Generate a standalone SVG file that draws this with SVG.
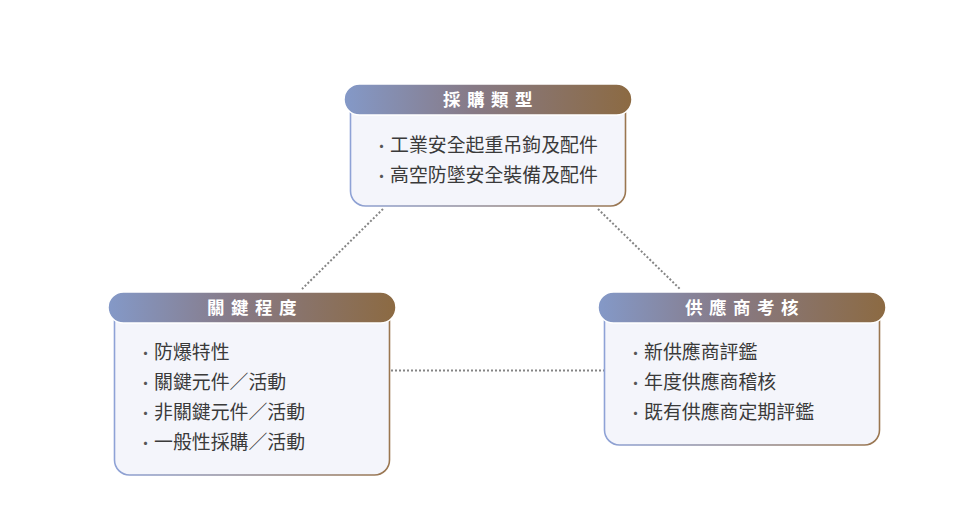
<svg xmlns="http://www.w3.org/2000/svg" width="975" height="530" viewBox="0 0 975 530">
  <defs>
    <linearGradient id="hdr" x1="0" y1="0" x2="1" y2="0">
      <stop offset="0" stop-color="#8499c8"/>
      <stop offset="0.45" stop-color="#877a86"/>
      <stop offset="1" stop-color="#8c6a42"/>
    </linearGradient>
    <linearGradient id="brd" x1="0" y1="0" x2="1" y2="0">
      <stop offset="0" stop-color="#8ea2d6"/>
      <stop offset="1" stop-color="#9a7650"/>
    </linearGradient>
    <style>
      .body { fill: #f4f5fb; stroke: url(#brd); stroke-width: 1.6; }
      .hdr { fill: url(#hdr); stroke: #ffffff; stroke-width: 1.5; }
      .ttl { font-family: "Noto Sans CJK TC", "Noto Sans", sans-serif; font-size: 17.5px; font-weight: bold; fill: #ffffff; letter-spacing: 6.5px; text-anchor: middle; }
      .itm { font-family: "Noto Sans CJK TC", "Noto Sans", sans-serif; font-size: 18.9px; fill: #3a3a3a; }
      .dot { font-size: 15px; fill: #555555; }
      .conn { stroke: #858585; stroke-width: 2; stroke-dasharray: 2 2; fill: none; }
    </style>
  </defs>
  <rect width="975" height="530" fill="#ffffff"/>

  <g id="connectors">
    <line class="conn" x1="383" y1="209" x2="302" y2="289"/>
    <line class="conn" x1="598" y1="209" x2="680" y2="289"/>
    <line class="conn" x1="391" y1="370.5" x2="604" y2="370.5"/>
  </g>

  <g id="node-type">
    <rect class="body" x="350.5" y="98" width="275" height="108" rx="15"/>
    <rect class="hdr" x="344" y="84" width="288" height="31" rx="15.5"/>
    <text class="ttl" x="491" y="106">採購類型</text>
    <text class="itm" y="152"><tspan class="dot" x="374">·</tspan><tspan x="390">工業安全起重吊鉤及配件</tspan></text>
    <text class="itm" y="182"><tspan class="dot" x="374">·</tspan><tspan x="390">高空防墜安全裝備及配件</tspan></text>
  </g>

  <g id="node-level">
    <rect class="body" x="114.5" y="306" width="275" height="169" rx="15"/>
    <rect class="hdr" x="108" y="292" width="288" height="31" rx="15.5"/>
    <text class="ttl" x="255" y="314">關鍵程度</text>
    <text class="itm" y="359"><tspan class="dot" x="138">·</tspan><tspan x="154">防爆特性</tspan></text>
    <text class="itm" y="389"><tspan class="dot" x="138">·</tspan><tspan x="154">關鍵元件／活動</tspan></text>
    <text class="itm" y="419"><tspan class="dot" x="138">·</tspan><tspan x="154">非關鍵元件／活動</tspan></text>
    <text class="itm" y="449"><tspan class="dot" x="138">·</tspan><tspan x="154">一般性採購／活動</tspan></text>
  </g>

  <g id="node-supplier">
    <rect class="body" x="604.5" y="306" width="275" height="139" rx="15"/>
    <rect class="hdr" x="598" y="292" width="288" height="31" rx="15.5"/>
    <text class="ttl" x="745" y="314">供應商考核</text>
    <text class="itm" y="359"><tspan class="dot" x="628">·</tspan><tspan x="644">新供應商評鑑</tspan></text>
    <text class="itm" y="389"><tspan class="dot" x="628">·</tspan><tspan x="644">年度供應商稽核</tspan></text>
    <text class="itm" y="419"><tspan class="dot" x="628">·</tspan><tspan x="644">既有供應商定期評鑑</tspan></text>
  </g>
</svg>
